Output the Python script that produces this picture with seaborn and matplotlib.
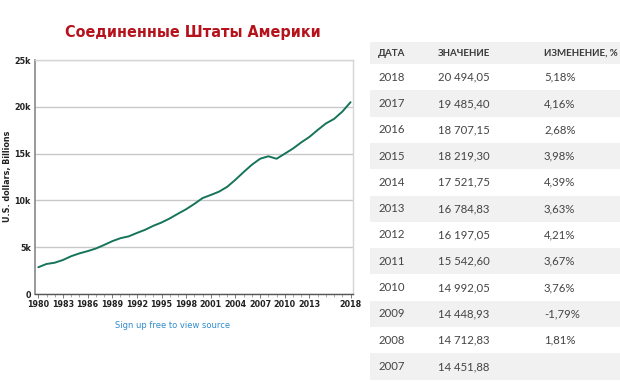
import matplotlib
matplotlib.use("Agg")
import matplotlib.pyplot as plt
import seaborn as sns
import pandas as pd
from matplotlib.patches import Rectangle
from matplotlib.ticker import FixedLocator, MultipleLocator

years = list(range(1980, 2019))
gdp = [2857, 3207, 3343, 3634, 4037, 4339, 4579, 4855, 5236, 5641,
       5963, 6158, 6520, 6859, 7287, 7639, 8073, 8577, 9062, 9631,
       10252, 10582, 10936, 11458, 12214, 13037, 13815, 14452, 14713, 14449,
       14992, 15543, 16197, 16785, 17522, 18219, 18707, 19485, 20494]
ytick_vals = [0, 5000, 10000, 15000, 20000, 25000]
ytick_labels = ["0", "5k", "10k", "15k", "20k", "25k"]
xtick_vals = [1980, 1983, 1986, 1989, 1992, 1995, 1998, 2001, 2004, 2007, 2010, 2013, 2018]

title = "Соединенные Штаты Америки"
ylabel = "U.S. dollars, Billions"
source = "Sign up free to view source"

table_header = ["ДАТА", "ЗНАЧЕНИЕ", "ИЗМЕНЕНИЕ, %"]
table_dates = ["2018", "2017", "2016", "2015", "2014", "2013", "2012", "2011", "2010", "2009", "2008", "2007"]
table_values = ["20 494,05", "19 485,40", "18 707,15", "18 219,30", "17 521,75", "16 784,83",
                "16 197,05", "15 542,60", "14 992,05", "14 448,93", "14 712,83", "14 451,88"]
table_changes = ["5,18%", "4,16%", "2,68%", "3,98%", "4,39%", "3,63%",
                 "4,21%", "3,67%", "3,76%", "-1,79%", "1,81%", ""]

sns.set_theme(style="white")
plt.rcParams['font.family'] = ['DejaVu Sans']

W, H = 620, 381
fig = plt.figure(figsize=(W / 100, H / 100), dpi=100)
fig.patch.set_facecolor("white")

ax = fig.add_axes([35 / W, 1 - 294 / H, (353 - 35) / W, (294 - 60) / H])
df = pd.DataFrame({"year": years, "gdp": gdp})
sns.lineplot(data=df, x="year", y="gdp", ax=ax, color="#16745a", linewidth=1.4)

ax.set_xlim(1979.6, 2018.3)
ax.set_ylim(0, 25000)
ax.yaxis.set_major_locator(FixedLocator(ytick_vals))
ax.set_yticklabels(ytick_labels, fontsize=5.8, fontweight="bold", color="#222222")
ax.xaxis.set_major_locator(FixedLocator(xtick_vals))
ax.set_xticklabels([str(v) for v in xtick_vals], fontsize=5.8, fontweight="bold", color="#222222")
ax.xaxis.set_minor_locator(MultipleLocator(1))
ax.tick_params(axis="x", which="major", length=3, width=0.6, color="#666666", pad=1.5, direction="out", bottom=True)
ax.tick_params(axis="x", which="minor", length=2, width=0.5, color="#888888", bottom=True)
ax.tick_params(axis="y", length=0, pad=3)
ax.grid(axis="y", color="#c8c8c8", linewidth=1.0)
ax.set_axisbelow(True)
for s in ["top", "right"]:
    ax.spines[s].set_color("#d5d5d5")
    ax.spines[s].set_linewidth(1.0)
ax.spines["left"].set_color("#888888")
ax.spines["left"].set_linewidth(1.2)
ax.spines["bottom"].set_color("#555555")
ax.spines["bottom"].set_linewidth(1.0)
ax.set_xlabel("")
ax.set_ylabel("")
fig.text(8 / W, 1 - 176 / H, ylabel, rotation=90, ha="center", va="center",
         fontsize=5.8, fontweight="bold", color="#222222")

fig.text(193 / W, 1 - 33 / H, title, ha="center", va="center", fontsize=11.5,
         fontweight="bold", fontstretch="condensed", color="#b5121b", family=["DejaVu Sans"])
fig.text(173 / W, 1 - 325 / H, source, ha="center", va="center", fontsize=6,
         color="#2f8ccc")

# Table
tx0, tx1 = 370, 620
header_top, header_bot = 42, 64
pitch = 26.3
fig.patches.append(Rectangle((tx0 / W, 1 - header_bot / H), (tx1 - tx0) / W, (header_bot - header_top) / H,
                             transform=fig.transFigure, facecolor="#f1f1f1", edgecolor="none", zorder=0))
cols = [378, 438, 544]
for x, t in zip(cols, table_header):
    fig.text(x / W, 1 - 53.5 / H, t, ha="left", va="center", fontsize=7, fontweight="bold",
             color="#3a3a3a", family=["Lato", "DejaVu Sans"])
for i, (d, v, c) in enumerate(zip(table_dates, table_values, table_changes)):
    top = header_bot + i * pitch
    if i % 2 == 1:
        fig.patches.append(Rectangle((tx0 / W, 1 - (top + pitch) / H), (tx1 - tx0) / W, pitch / H,
                                     transform=fig.transFigure, facecolor="#f1f1f1", edgecolor="none", zorder=0))
    yc = top + pitch / 2
    for x, t in zip(cols, [d, v, c]):
        fig.text(x / W, 1 - yc / H, t, ha="left", va="center", fontsize=8.2,
                 color="#444444", family=["Lato", "DejaVu Sans"])

fig.savefig("out.png", dpi=100, facecolor="white")
